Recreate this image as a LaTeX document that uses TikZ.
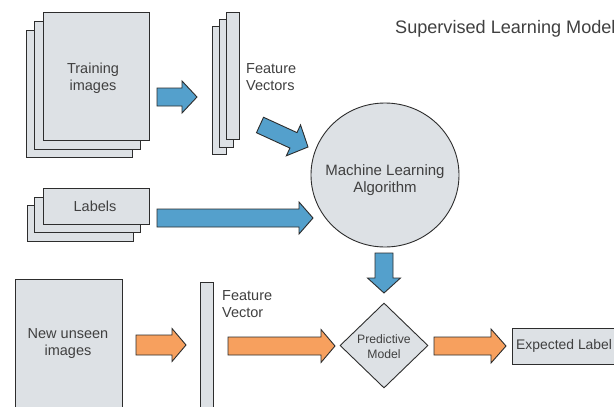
\documentclass[tikz,border=0pt]{standalone}
\usepackage{fontspec}
\setmainfont{Liberation Sans}
\usetikzlibrary{calc,shapes.geometric}
\definecolor{boxfill}{RGB}{221,225,229}
\definecolor{arrblue}{RGB}{84,160,204}
\definecolor{arrorange}{RGB}{247,160,94}
\definecolor{txt}{RGB}{64,64,64}
\definecolor{edge}{RGB}{45,45,45}
% tail, tip, shaft half width, head half width, head length, colour
\newcommand{\blockarrow}[6]{%
  \coordinate (ba-h) at ($(#2)!#5!(#1)$);
  \filldraw[fill=#6, draw=edge, line width=0.9pt, line join=miter]
    ($(#1)!#3!90:(#2)$) -- ($(ba-h)!#3!90:(#2)$) -- ($(ba-h)!#4!90:(#2)$) --
    (#2) -- ($(ba-h)!#4!-90:(#2)$) -- ($(ba-h)!#3!-90:(#2)$) --
    ($(#1)!#3!-90:(#2)$) -- cycle;
}
\tikzset{
  box/.style={draw=edge, fill=boxfill, line width=0.9pt, inner sep=0pt, rectangle},
  lbl/.style={text=txt, font=\fontsize{14.5}{17}\selectfont, align=center, inner sep=0pt},
}
\begin{document}
\begin{tikzpicture}[x=1pt,y=-1pt]
\clip (0,0) rectangle (614,407);
\fill[white] (0,0) rectangle (614,407);

% title
\node[text=txt, font=\fontsize{18.1}{20}\selectfont, anchor=base west, inner sep=0pt] (title) at (395,33) {Supervised Learning Model};

% training images stack
\node[box, minimum width=106pt, minimum height=127pt] (tr3) at (79,94) {};
\node[box, minimum width=106pt, minimum height=128pt] (tr2) at (87.5,85) {};
\node[box, minimum width=106pt, minimum height=128pt] (tr1) at (96,76) {};
\node[lbl] (trtext) at (93,78) {Training\\images};

% feature vectors stack
\node[box, minimum width=14pt, minimum height=128pt] (fv3) at (219,90) {};
\node[box, minimum width=14pt, minimum height=128pt] (fv2) at (226,83) {};
\node[box, minimum width=13pt, minimum height=127pt] (fv1) at (232.5,75.5) {};
\node[lbl, align=left, anchor=west] (fvtext) at (246,77) {Feature\\Vectors};

% labels stack
\node[box, minimum width=106pt, minimum height=36pt] (lb3) at (80,223) {};
\node[box, minimum width=106pt, minimum height=35pt] (lb2) at (87.5,214.5) {};
\node[box, minimum width=106pt, minimum height=36pt] (lb1) at (96,206) {};
\node[lbl] (lbtext) at (95,206) {Labels};

% machine learning algorithm
\node[draw=edge, fill=boxfill, line width=0.9pt, ellipse, inner sep=0pt, minimum width=148pt, minimum height=144pt] (mla) at (385,175) {};
\node[lbl, font=\fontsize{15}{17}\selectfont] (mlatext) at (385,180) {Machine Learning\\Algorithm};

% predictive model
\node[draw=edge, fill=boxfill, line width=0.9pt, diamond, inner sep=0pt, minimum width=88pt, minimum height=85pt] (pm) at (384,345.5) {};
\node[lbl, font=\fontsize{12.2}{15}\selectfont] (pmtext) at (384,347) {Predictive\\Model};

% new unseen images
\node[box, minimum width=107pt, minimum height=136pt] (nu) at (68.5,347) {};
\node[lbl] (nutext) at (68,344) {New unseen\\images};

% feature vector bar
\node[box, minimum width=13pt, minimum height=133pt] (fvb) at (206.5,348.5) {};
\node[lbl, align=left, anchor=west] (fvbtext) at (222,304) {Feature\\Vector};

% expected label
\node[box, minimum width=110pt, minimum height=36pt] (el) at (567,346) {};
\node[lbl, font=\fontsize{13.9}{17}\selectfont, anchor=west] (eltext) at (516,346) {Expected Label};

% arrow end points
\coordinate (a1t) at (157,97);   \coordinate (a1h) at (197,97);
\coordinate (a2t) at (260,125);  \coordinate (a2h) at (308,147);
\coordinate (a3t) at (157,218);  \coordinate (a3h) at (313,218);
\coordinate (a4t) at (384,253);  \coordinate (a4h) at (384,293);
\coordinate (o1t) at (136,345);  \coordinate (o1h) at (186,345);
\coordinate (o2t) at (228,346);  \coordinate (o2h) at (335,346);
\coordinate (o3t) at (434,346);  \coordinate (o3h) at (506,346);

\blockarrow{a1t}{a1h}{9pt}{16pt}{15pt}{arrblue}
\blockarrow{a2t}{a2h}{8.5pt}{17pt}{16pt}{arrblue}
\blockarrow{a3t}{a3h}{9pt}{16pt}{14pt}{arrblue}
\blockarrow{a4t}{a4h}{9pt}{16.5pt}{15pt}{arrblue}
\blockarrow{o1t}{o1h}{10pt}{16.5pt}{14pt}{arrorange}
\blockarrow{o2t}{o2h}{9pt}{16.5pt}{14pt}{arrorange}
\blockarrow{o3t}{o3h}{9pt}{17pt}{15pt}{arrorange}
\end{tikzpicture}
\end{document}
